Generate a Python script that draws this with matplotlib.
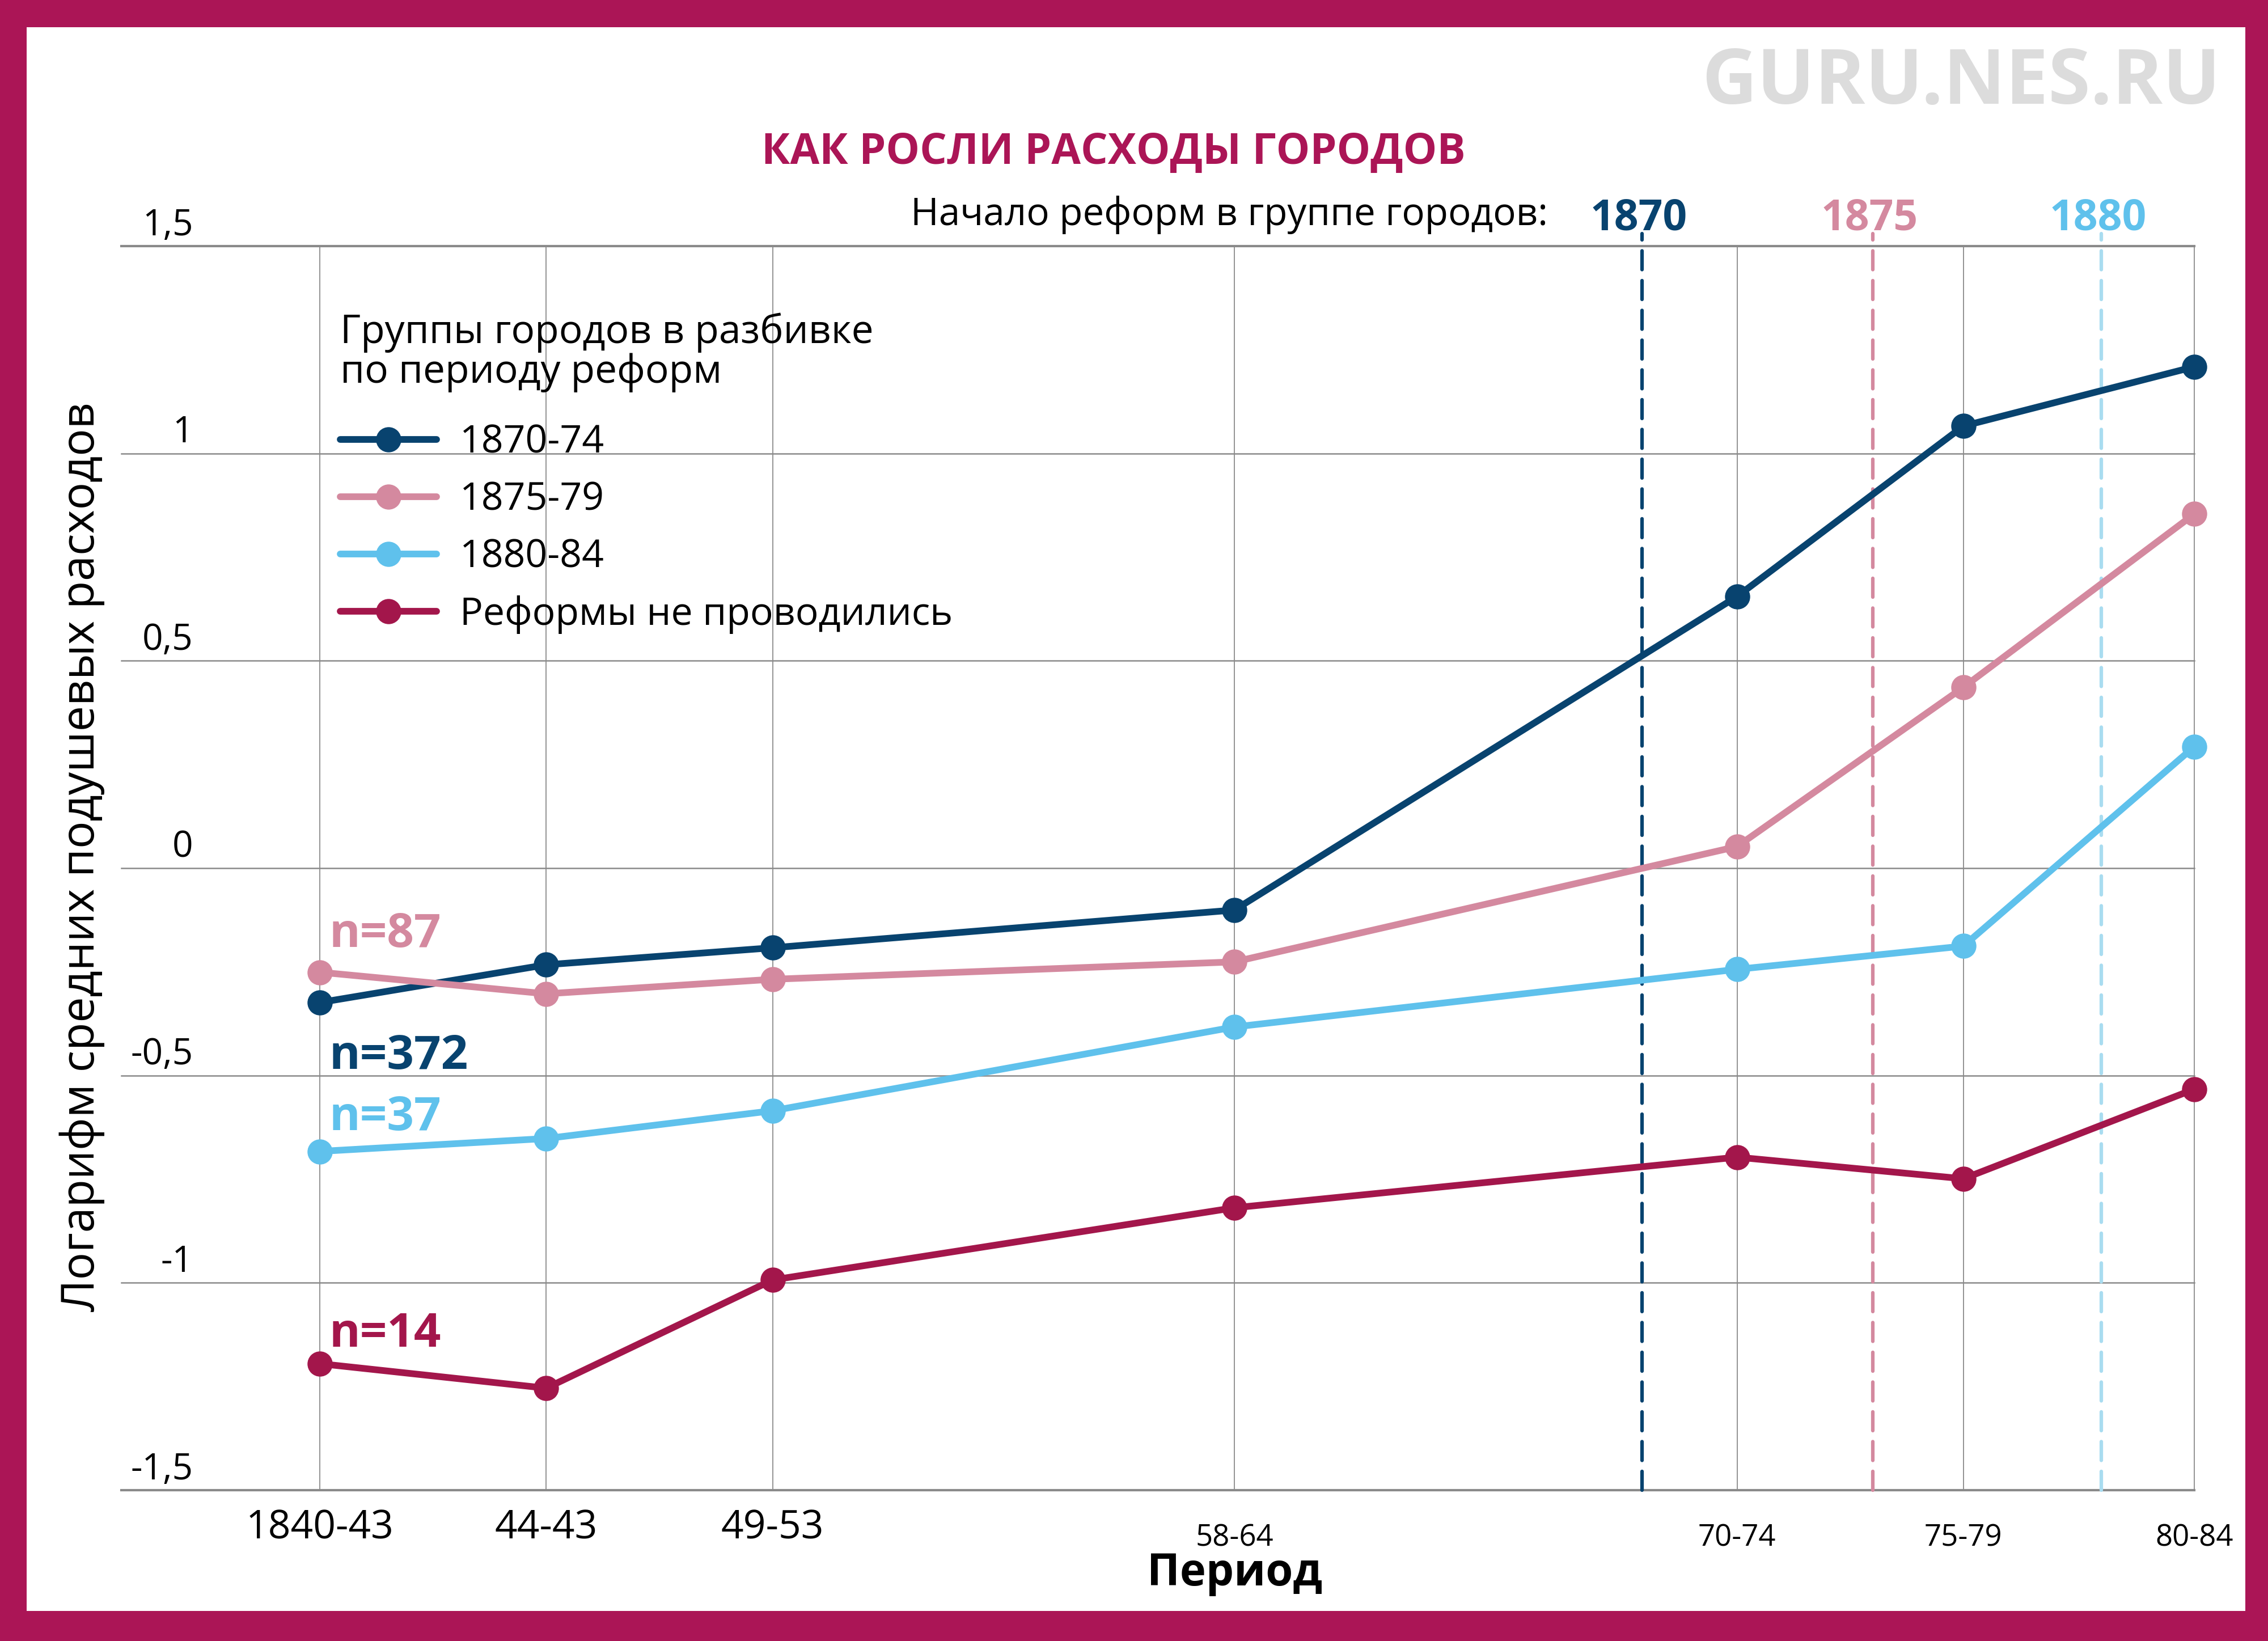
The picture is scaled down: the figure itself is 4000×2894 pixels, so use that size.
import matplotlib
matplotlib.use("Agg")
import matplotlib.pyplot as plt
from matplotlib.patches import Rectangle
from matplotlib.transforms import blended_transform_factory

plt.rcParams['font.family'] = ['Open Sans', 'DejaVu Sans']

# data
periods = ["1840-43", "44-43", "49-53", "58-64", "70-74", "75-79", "80-84"]
x_pos = [0, 1, 2, 4.04, 6.26, 7.26, 8.28]  # uneven spacing as in original

groups = ["1870-74", "1875-79", "1880-84", "Реформы не проводились"]
n_labels = ["n=372", "n=87", "n=37", "n=14"]
values = {
    "1870-74": [-0.324, -0.233, -0.192, -0.101, 0.655, 1.066, 1.209],
    "1875-79": [-0.251, -0.303, -0.268, -0.226, 0.052, 0.436, 0.854],
    "1880-84": [-0.683, -0.652, -0.585, -0.383, -0.244, -0.188, 0.293],
    "Реформы не проводились": [-1.195, -1.254, -0.993, -0.819, -0.697, -0.749, -0.533],
}
reform_years = ["1870", "1875", "1880"]
reform_x = [5.84, 6.86, 7.87]

yticks = [1.5, 1, 0.5, 0, -0.5, -1, -1.5]
ytick_labels = ["1,5", "1", "0,5", "0", "-0,5", "-1", "-1,5"]

colors = ["#08436F", "#D4899F", "#5FC1EC", "#A3164B"]
dash_colors = ["#08436F", "#D4899F", "#A9DCF0"]
n_offsets = [-0.13, 0.09, 0.08, 0.07]
border = "#AB1556"

fig = plt.figure(figsize=(40, 28.94), dpi=100)
fig.patch.set_facecolor(border)
fig.patches.append(Rectangle((47 / 4000, 1 - 2841 / 2894), (3960 - 47) / 4000, (2841 - 48) / 2894,
                             transform=fig.transFigure, facecolor="white", edgecolor="none", zorder=-5))

ax = fig.add_axes([214 / 4000, 1 - 2628 / 2894, (3870 - 214) / 4000, (2628 - 434) / 2894])
ax.set_facecolor("none")
ax.set_xlim(-0.877, x_pos[-1])
ax.set_ylim(-1.5, 1.5)

# grid
for y in yticks:
    lw = 3 if abs(y) == 1.5 else 1.8
    ax.axhline(y, color="#8a8a8a", lw=lw, zorder=1, clip_on=False)
ax.vlines(x_pos, -1.5, 1.5, color="#8a8a8a", lw=1.3, zorder=1, clip_on=False)

for s in ax.spines.values():
    s.set_visible(False)
ax.set_xticks([])
ax.set_yticks([])

# reform start lines
for xr, c in zip(reform_x, dash_colors):
    ax.plot([xr, xr], [-1.5, 1.53], color=c, lw=4.5, ls=(0, (5.3, 3.1)),
            dash_capstyle="round", zorder=2, clip_on=False)

# series
for g, c in zip(groups, colors):
    ax.plot(x_pos, values[g], color=c, lw=8.5, marker="o", ms=31, label=g,
            solid_capstyle="round", zorder=3, clip_on=False)

# n labels
for g, c, nl, off in zip(groups, colors, n_labels, n_offsets):
    ax.text(x_pos[0] + 0.04, values[g][0] + off, nl, color=c, fontsize=60,
            fontweight="bold", ha="left", va="center", zorder=4)

# y tick labels
for y, lab in zip(yticks, ytick_labels):
    ax.annotate(lab, xy=(-0.56, y), xytext=(0, 14), textcoords="offset points",
                ha="right", va="baseline", fontsize=46)

# x tick labels (last four are smaller in the original)
tr = ax.get_xaxis_transform()
for i, (xp, lab) in enumerate(zip(x_pos, periods)):
    if i < 3:
        ax.text(xp, -0.015, lab, transform=tr, ha="center", va="top", fontsize=50)
    else:
        ax.text(xp, -0.045, lab, transform=tr, ha="center", va="baseline", fontsize=38)

ax.text(x_pos[3], -0.0765, "Период", transform=tr, ha="center", va="baseline",
        fontsize=56, fontweight="bold")

fig.text(145 / 4000, 1 - 1511 / 2894, "Логарифм средних подушевых расходов",
         rotation=90, ha="center", va="center", fontsize=58)

# header texts
fig.text(1964 / 4000, 1 - 288 / 2894, "КАК РОСЛИ РАСХОДЫ ГОРОДОВ", ha="center",
         va="baseline", fontsize=54, fontweight="bold", color=border)
fig.text(3916 / 4000, 1 - 183 / 2894, "GURU.NES.RU", ha="right", va="baseline",
         fontsize=97, fontweight="bold", color="#DCDCDC")
fig.text(2730 / 4000, 1 - 397 / 2894, "Начало реформ в группе городов:", ha="right",
         va="baseline", fontsize=48.5)
trf = blended_transform_factory(ax.transData, fig.transFigure)
for yr, xr, c in zip(reform_years, reform_x, colors[:3]):
    ax.annotate(yr, xy=(xr, 1 - 405 / 2894), xycoords=trf, xytext=(-4, 0),
                textcoords="offset points", ha="center", va="baseline",
                fontsize=54, fontweight="bold", color=c)

leg = ax.legend(loc="upper left", bbox_to_anchor=(600 / 4000, 1 - 551 / 2894),
                bbox_transform=fig.transFigure, frameon=False, fontsize=49,
                title="Группы городов в разбивке\nпо периоду реформ", title_fontsize=50,
                alignment="left", borderpad=0, borderaxespad=0, handlelength=2.5,
                handletextpad=0.6, labelspacing=0.49, numpoints=1)
leg.get_title().set_linespacing(1.0)
leg._legend_box.sep = 40

fig.savefig("out.png", dpi=100, facecolor=fig.get_facecolor())
